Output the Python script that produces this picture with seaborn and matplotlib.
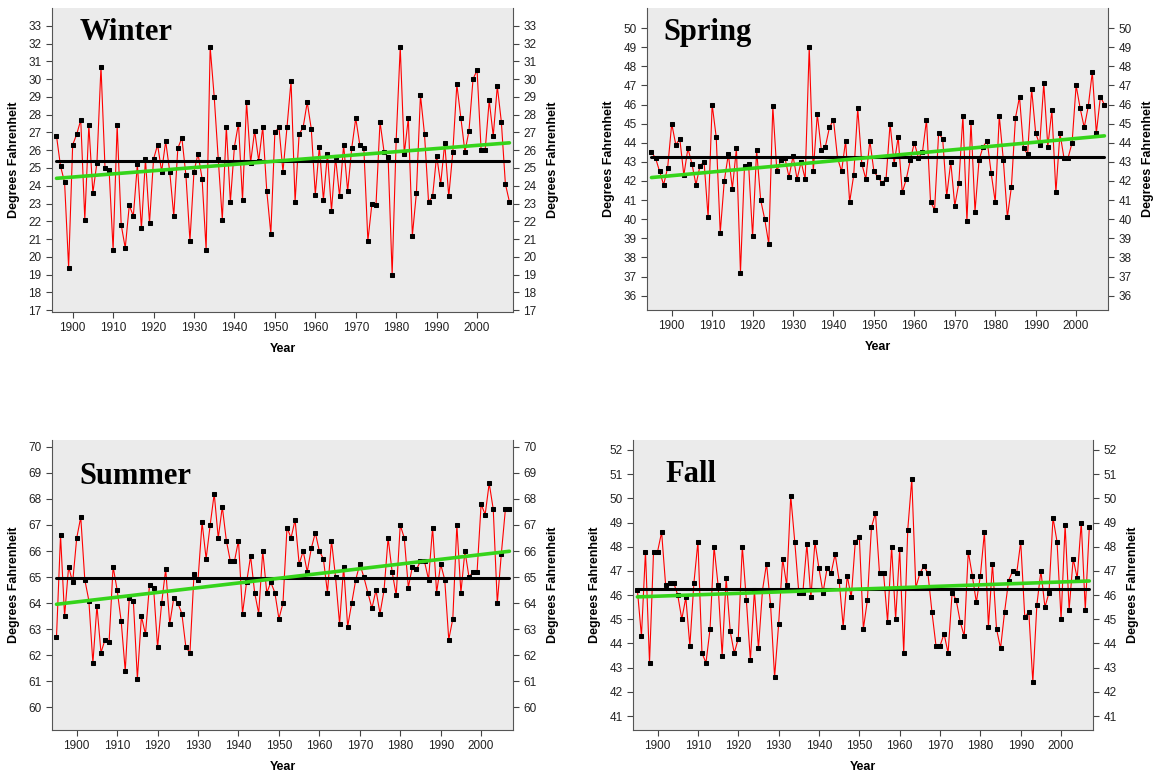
import numpy as np
import matplotlib
matplotlib.use("Agg")
import matplotlib.pyplot as plt
import seaborn as sns

# seasonal mean temperatures (deg F)
winter_years = list(range(1896, 2009))
winter_temp = [26.8, 25.1, 24.2, 19.4, 26.3, 26.9, 27.7, 22.1, 27.4, 23.6,
               25.3, 30.7, 25.0, 24.9, 20.4, 27.4, 21.8, 20.5, 22.9, 22.3,
               25.2, 21.6, 25.5, 21.9, 25.5, 26.3, 24.8, 26.5, 24.8, 22.3,
               26.1, 26.7, 24.6, 20.9, 24.8, 25.8, 24.4, 20.4, 31.8, 29.0,
               25.5, 22.1, 27.3, 23.1, 26.2, 27.5, 23.2, 28.7, 25.3, 27.1,
               25.4, 27.3, 23.7, 21.3, 27.0, 27.3, 24.8, 27.3, 29.9, 23.1,
               26.9, 27.3, 28.7, 27.2, 23.5, 26.2, 23.2, 25.8, 22.6, 25.6,
               23.4, 26.3, 23.7, 26.1, 27.8, 26.3, 26.1, 20.9, 23.0, 22.9,
               27.6, 25.9, 25.6, 19.0, 26.6, 31.8, 25.8, 27.8, 21.2, 23.6,
               29.1, 26.9, 23.1, 23.4, 25.7, 24.1, 26.4, 23.4, 25.9, 29.7,
               27.8, 25.9, 27.1, 30.0, 30.5, 26.0, 26.0, 28.8, 26.8, 29.6,
               27.6, 24.1, 23.1]

spring_years = list(range(1895, 2008))
spring_temp = [43.5, 43.2, 42.5, 41.8, 42.7, 45.0, 43.9, 44.2, 42.3, 43.7,
               42.9, 41.8, 42.8, 43.0, 40.1, 46.0, 44.3, 39.3, 42.0, 43.4,
               41.6, 43.7, 37.2, 42.8, 42.9, 39.1, 43.6, 41.0, 40.0, 38.7,
               45.9, 42.5, 43.1, 43.2, 42.2, 43.3, 42.1, 43.0, 42.1, 49.0,
               42.5, 45.5, 43.6, 43.8, 44.8, 45.2, 43.2, 42.5, 44.1, 40.9,
               42.3, 45.8, 42.9, 42.1, 44.1, 42.5, 42.2, 41.9, 42.1, 45.0,
               42.9, 44.3, 41.4, 42.1, 43.1, 44.0, 43.2, 43.5, 45.2, 40.9,
               40.5, 44.5, 44.2, 41.2, 43.0, 40.7, 41.9, 45.4, 39.9, 45.1,
               40.4, 43.1, 43.8, 44.1, 42.4, 40.9, 45.4, 43.1, 40.1, 41.7,
               45.3, 46.4, 43.7, 43.4, 46.8, 44.5, 43.9, 47.1, 43.8, 45.7,
               41.4, 44.5, 43.2, 43.2, 44.0, 47.0, 45.8, 44.8, 45.9, 47.7,
               44.5, 46.4, 46.0]

summer_years = list(range(1895, 2008))
summer_temp = [62.7, 66.6, 63.5, 65.4, 64.8, 66.5, 67.3, 64.9, 64.1, 61.7,
               63.9, 62.1, 62.6, 62.5, 65.4, 64.5, 63.3, 61.4, 64.2, 64.1,
               61.1, 63.5, 62.8, 64.7, 64.6, 62.3, 64.0, 65.3, 63.2, 64.2,
               64.0, 63.6, 62.3, 62.1, 65.1, 64.9, 67.1, 65.7, 67.0, 68.2,
               66.5, 67.7, 66.4, 65.6, 65.6, 66.4, 63.6, 64.8, 65.8, 64.4,
               63.6, 66.0, 64.4, 64.8, 64.4, 63.4, 64.0, 66.9, 66.5, 67.2,
               65.5, 66.0, 65.2, 66.1, 66.7, 66.0, 65.7, 64.4, 66.4, 65.0,
               63.2, 65.4, 63.1, 64.0, 64.9, 65.5, 65.0, 64.4, 63.8, 64.5,
               63.6, 64.5, 66.5, 65.2, 64.3, 67.0, 66.5, 64.6, 65.4, 65.3,
               65.6, 65.6, 64.9, 66.9, 64.4, 65.5, 64.9, 62.6, 63.4, 67.0,
               64.4, 66.0, 65.0, 65.2, 65.2, 67.8, 67.4, 68.6, 67.6, 64.0,
               65.9, 67.6, 67.6]

fall_years = list(range(1895, 2008))
fall_temp = [46.2, 44.3, 47.8, 43.2, 47.8, 47.8, 48.6, 46.4, 46.5, 46.5,
             46.0, 45.0, 45.9, 43.9, 46.5, 48.2, 43.6, 43.2, 44.6, 48.0,
             46.4, 43.5, 46.7, 44.5, 43.6, 44.2, 48.0, 45.8, 43.3, 46.2,
             43.8, 46.2, 47.3, 45.6, 42.6, 44.8, 47.5, 46.4, 50.1, 48.2,
             46.1, 46.1, 48.1, 45.9, 48.2, 47.1, 46.1, 47.1, 46.9, 47.7,
             46.6, 44.7, 46.8, 45.9, 48.2, 48.4, 44.6, 45.8, 48.8, 49.4,
             46.9, 46.9, 44.9, 48.0, 45.0, 47.9, 43.6, 48.7, 50.8, 46.3,
             46.9, 47.2, 46.9, 45.3, 43.9, 43.9, 44.4, 43.6, 46.1, 45.8,
             44.9, 44.3, 47.8, 46.8, 45.7, 46.8, 48.6, 44.7, 47.3, 44.6,
             43.8, 45.3, 46.6, 47.0, 46.9, 48.2, 45.1, 45.3, 42.4, 45.6,
             47.0, 45.5, 46.1, 49.2, 48.2, 45.0, 48.9, 45.4, 47.5, 46.7,
             49.0, 45.4, 48.8]

sns.set_style("ticks", {"axes.facecolor": "#ebebeb"})
plt.rcParams['font.family'] = ['Liberation Sans', 'DejaVu Sans']
plt.rcParams['text.color'] = 'black'
plt.rcParams['axes.labelcolor'] = 'black'

fig = plt.figure(figsize=(11.54, 7.74), dpi=100)

panels = [
    ("Winter", winter_years, winter_temp, [0.0451, 0.5969, 0.3995, 0.3928], (16.9, 34.0), range(17, 34), (0.06, 0.92)),
    ("Spring", spring_years, spring_temp, [0.5607, 0.5995, 0.3995, 0.3902], (35.25, 51.05), range(36, 51), (0.035, 0.92)),
    ("Summer", summer_years, summer_temp, [0.0451, 0.0568, 0.3995, 0.3747], (59.13, 70.26), range(60, 71), (0.06, 0.875)),
    ("Fall", fall_years, fall_temp, [0.5485, 0.0568, 0.3986, 0.3747], (40.42, 52.41), range(41, 53), (0.07, 0.88)),
]

for name, yrs, temps, pos, ylim, yticks, tpos in panels:
    ax = fig.add_axes(pos)
    sns.lineplot(x=yrs, y=temps, ax=ax, color="red", linewidth=0.8,
                 marker="s", markersize=2.6, markerfacecolor="black",
                 markeredgecolor="black", zorder=2)
    avg = np.mean(temps)
    ax.plot([yrs[0], yrs[-1]], [avg, avg], color="black", linewidth=2.2, zorder=3)
    sns.regplot(x=np.array(yrs), y=np.array(temps), ax=ax, scatter=False, ci=None,
                color="#35d41a", line_kws={"linewidth": 2.6, "zorder": 4})

    ax.set_xlim(yrs[0] - 1.1, yrs[-1] + 0.9)
    ax.set_ylim(*ylim)
    ax.set_xticks(range(1900, 2001, 10))
    ax.set_yticks(list(yticks))
    ax.tick_params(axis="both", labelsize=8.5, length=4, width=0.8,
                   color="#444444", labelcolor="#222222")
    ax.tick_params(axis="y", right=True, labelright=True)
    for s in ["left", "bottom", "right"]:
        ax.spines[s].set_visible(True)
        ax.spines[s].set_color("#555555")
    ax.spines["top"].set_visible(False)

    ax.set_xlabel("Year", fontsize=9, fontweight="bold", labelpad=6)
    ax.set_ylabel("Degrees Fahrenheit", fontsize=9, fontweight="bold", labelpad=6)
    ax.text(1.087, 0.5, "Degrees Fahrenheit", rotation=90, transform=ax.transAxes,
            ha="center", va="center", fontsize=9, fontweight="bold")
    ax.text(tpos[0], tpos[1], name, transform=ax.transAxes, ha="left", va="center",
            fontsize=22, fontweight="bold", family="Liberation Serif", color="black")

fig.savefig("out.png", dpi=100)
